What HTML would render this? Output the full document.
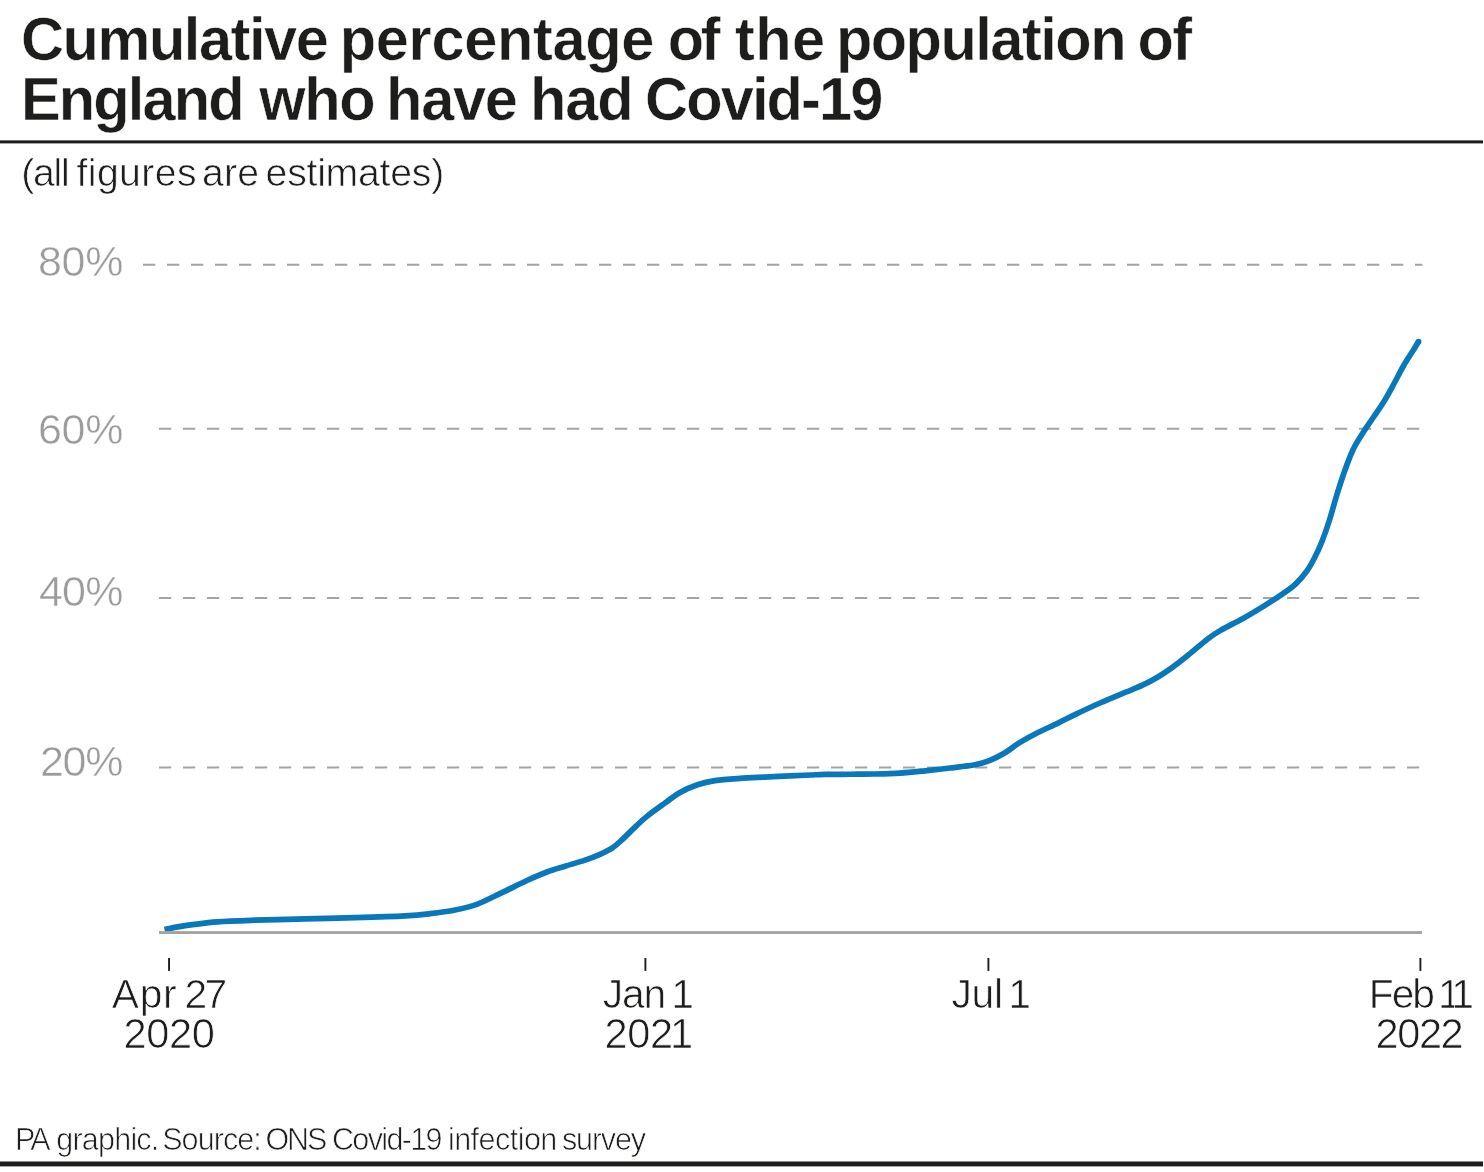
<!DOCTYPE html>
<html lang="en">
<head>
<meta charset="utf-8">
<title>Cumulative percentage of the population of England who have had Covid-19</title>
<style>
html,body{margin:0;padding:0;background:#fff;}
body{width:1484px;height:1172px;position:relative;overflow:hidden;font-family:"Liberation Sans",sans-serif;}
#chart{position:absolute;left:0;top:0;width:1484px;height:1172px;display:block;}
.g{margin:0;padding:0;font-size:16px;font-weight:normal;line-height:0;}
.t{display:block;position:absolute;transform-origin:0 0;white-space:pre;line-height:0;margin:0;padding:0;height:0;font-weight:normal;}

#title1{left:20.51px;top:38.90px;font-size:62.00px;font-weight:bold;color:#1d1d1b;transform:scaleX(0.9600);-webkit-text-stroke:0.50px #fff;}
#title2{left:21.40px;top:99.40px;font-size:62.00px;font-weight:bold;color:#1d1d1b;transform:scaleX(0.9600);-webkit-text-stroke:0.50px #fff;}
#sub{left:21.17px;top:173.18px;font-size:39.20px;font-weight:normal;color:#1d1d1b;-webkit-text-stroke:0.65px #fff;}
#y80{left:37.90px;top:260.55px;font-size:43.00px;font-weight:normal;color:#9b9b9b;-webkit-text-stroke:0.50px #fff;}
#y60{left:37.98px;top:428.55px;font-size:43.00px;font-weight:normal;color:#9b9b9b;-webkit-text-stroke:0.50px #fff;}
#y40{left:39.01px;top:590.55px;font-size:43.00px;font-weight:normal;color:#9b9b9b;-webkit-text-stroke:0.50px #fff;}
#y20{left:40.03px;top:760.55px;font-size:43.00px;font-weight:normal;color:#9b9b9b;-webkit-text-stroke:0.50px #fff;}
#x1a{left:111.72px;top:994.42px;font-size:40.80px;font-weight:normal;color:#1d1d1b;-webkit-text-stroke:0.70px #fff;}
#x1b{left:123.40px;top:1034.04px;font-size:41.60px;font-weight:normal;color:#1d1d1b;-webkit-text-stroke:0.70px #fff;}
#x2a{left:602.83px;top:994.42px;font-size:40.80px;font-weight:normal;color:#1d1d1b;-webkit-text-stroke:0.70px #fff;}
#x2b{left:604.40px;top:1034.04px;font-size:41.60px;font-weight:normal;color:#1d1d1b;-webkit-text-stroke:0.70px #fff;}
#x3a{left:951.49px;top:994.42px;font-size:40.80px;font-weight:normal;color:#1d1d1b;-webkit-text-stroke:0.70px #fff;}
#x4a{left:1368.82px;top:994.42px;font-size:40.80px;font-weight:normal;color:#1d1d1b;-webkit-text-stroke:0.70px #fff;}
#x4b{left:1375.60px;top:1034.04px;font-size:41.60px;font-weight:normal;color:#1d1d1b;-webkit-text-stroke:0.70px #fff;}
#foot{left:15.12px;top:1139.33px;font-size:30.50px;font-weight:normal;color:#1d1d1b;-webkit-text-stroke:0.70px #fff;}
</style>
</head>
<body>
<svg id="chart" width="1484" height="1172" viewBox="0 0 1484 1172">
<rect x="0" y="140.4" width="1483" height="3" fill="#1d1d1b"/>
<rect x="0" y="1161.5" width="1483" height="4.9" fill="#1d1d1b"/>
<g stroke="#a3a3a2" stroke-width="1.9" fill="none" stroke-dasharray="12.2 11.8">
<line x1="143" y1="264.7" x2="1422.3" y2="264.7"/>
<line x1="159" y1="428.75" x2="1419.3" y2="428.75"/>
<line x1="159" y1="598" x2="1419.3" y2="598"/>
<line x1="159" y1="767.5" x2="1419.3" y2="767.5"/>
</g>
<rect x="168.10" y="958" width="1.9" height="12.9" fill="#1d1d1b"/>
<rect x="644.45" y="958" width="1.9" height="12.9" fill="#1d1d1b"/>
<rect x="987.45" y="958" width="1.9" height="12.9" fill="#1d1d1b"/>
<rect x="1419.45" y="958" width="1.9" height="12.9" fill="#1d1d1b"/>
<path d="M164.50 929.52 C166.75 929.07 173.33 927.64 178.00 926.83 C182.67 926.02 185.92 925.51 192.50 924.67 C199.08 923.83 207.08 922.55 217.50 921.81 C227.92 921.07 240.42 920.70 255.00 920.22 C269.58 919.74 288.33 919.34 305.00 918.91 C321.67 918.49 338.33 918.17 355.00 917.65 C371.67 917.14 392.50 916.49 405.00 915.82 C417.50 915.16 421.67 914.63 430.00 913.66 C438.33 912.70 447.08 911.61 455.00 910.01 C462.92 908.41 469.58 907.01 477.50 904.07 C485.42 901.13 494.17 896.35 502.50 892.38 C510.83 888.41 520.00 883.69 527.50 880.25 C535.00 876.81 541.25 874.09 547.50 871.75 C553.75 869.41 558.75 868.13 565.00 866.20 C571.25 864.26 579.17 862.11 585.00 860.13 C590.83 858.16 595.42 856.38 600.00 854.33 C604.58 852.28 608.75 850.35 612.50 847.85 C616.25 845.35 618.75 842.76 622.50 839.31 C626.25 835.86 630.83 831.06 635.00 827.15 C639.17 823.24 642.50 819.89 647.50 815.86 C652.50 811.82 659.58 806.85 665.00 802.95 C670.42 799.05 674.58 795.49 680.00 792.45 C685.42 789.41 691.67 786.69 697.50 784.72 C703.33 782.74 707.92 781.66 715.00 780.60 C722.08 779.54 731.67 778.94 740.00 778.35 C748.33 777.76 756.67 777.48 765.00 777.08 C773.33 776.69 782.33 776.32 790.00 775.97 C797.67 775.62 805.17 775.25 811.00 774.99 C816.83 774.73 818.50 774.55 825.00 774.42 C831.50 774.30 841.67 774.32 850.00 774.25 C858.33 774.18 866.67 774.19 875.00 774.00 C883.33 773.81 891.67 773.63 900.00 773.10 C908.33 772.57 916.67 771.65 925.00 770.80 C933.33 769.96 941.67 769.04 950.00 768.03 C958.33 767.03 968.33 766.03 975.00 764.75 C981.67 763.47 985.00 762.36 990.00 760.36 C995.00 758.36 1000.00 755.73 1005.00 752.73 C1010.00 749.73 1014.58 745.71 1020.00 742.37 C1025.42 739.03 1031.25 735.84 1037.50 732.67 C1043.75 729.50 1051.25 726.36 1057.50 723.35 C1063.75 720.34 1067.92 717.99 1075.00 714.60 C1082.08 711.21 1091.67 706.69 1100.00 703.00 C1108.33 699.31 1117.92 695.45 1125.00 692.48 C1132.08 689.51 1137.08 687.73 1142.50 685.18 C1147.92 682.63 1152.75 679.98 1157.50 677.18 C1162.25 674.37 1165.92 672.01 1171.00 668.36 C1176.08 664.70 1181.83 660.19 1188.00 655.25 C1194.17 650.32 1202.58 642.88 1208.00 638.73 C1213.42 634.58 1214.67 633.72 1220.50 630.35 C1226.33 626.98 1235.92 622.44 1243.00 618.49 C1250.08 614.54 1256.33 610.79 1263.00 606.65 C1269.67 602.50 1277.58 597.37 1283.00 593.62 C1288.42 589.88 1291.55 587.90 1295.50 584.17 C1299.45 580.44 1303.61 575.49 1306.70 571.25 C1309.80 567.01 1311.59 563.54 1314.06 558.75 C1316.54 553.96 1319.04 548.79 1321.56 542.50 C1324.09 536.21 1326.65 528.92 1329.19 521.00 C1331.73 513.08 1334.17 503.50 1336.80 495.00 C1339.43 486.50 1342.31 477.50 1345.00 470.00 C1347.69 462.50 1350.16 455.83 1352.92 450.00 C1355.68 444.17 1358.35 440.17 1361.56 435.00 C1364.78 429.83 1368.60 424.42 1372.22 419.00 C1375.85 413.58 1379.82 408.17 1383.32 402.50 C1386.83 396.83 1389.82 391.25 1393.26 385.00 C1396.70 378.75 1400.60 370.83 1403.97 365.00 C1407.33 359.17 1411.02 353.92 1413.46 350.00 C1415.89 346.08 1417.74 342.92 1418.60 341.50" fill="none" stroke="#0878ba" stroke-width="5.7" stroke-linejoin="round" stroke-linecap="butt"/>
<circle cx="1418.60" cy="341.50" r="2.85" fill="#0878ba"/>
<rect x="159" y="931.1" width="1263" height="2.9" fill="#a3a3a2"/>
</svg>
<h1 class="g ttl"><span class="t" id="title1"><span class="s" style="letter-spacing:-1.515px">Cumulative</span> <span class="s" style="letter-spacing:-0.358px;margin-left:-4.18px">percentage</span> <span class="s" style="letter-spacing:-3.558px;margin-left:-2.85px">of</span> <span class="s" style="letter-spacing:0.382px;margin-left:1.47px">the</span> <span class="s" style="letter-spacing:-1.564px;margin-left:-6.36px">population</span> <span class="s" style="letter-spacing:-1.512px;margin-left:-4.32px">of</span></span>
<span class="t" id="title2"><span class="s" style="letter-spacing:-1.924px">England</span> <span class="s" style="letter-spacing:-1.379px;margin-left:-0.11px">who</span> <span class="s" style="letter-spacing:-1.383px;margin-left:-4.98px">have</span> <span class="s" style="letter-spacing:-1.216px;margin-left:-3.14px">had</span> <span class="s" style="letter-spacing:-1.948px;margin-left:-3.95px">Covid-19</span></span></h1>
<p class="g subt"><span class="t" id="sub"><span class="s" style="letter-spacing:-1.203px">(all</span> <span class="s" style="letter-spacing:0.439px;margin-left:-3.10px">figures</span> <span class="s" style="letter-spacing:0.205px;margin-left:-6.10px">are</span> <span class="s" style="letter-spacing:-0.234px;margin-left:-4.49px">estimates)</span></span></p>
<div class="g yaxis"><span class="t" id="y80"><span class="s" style="letter-spacing:-0.264px">80%</span></span>
<span class="t" id="y60"><span class="s" style="letter-spacing:-0.284px">60%</span></span>
<span class="t" id="y40"><span class="s" style="letter-spacing:-0.820px">40%</span></span>
<span class="t" id="y20"><span class="s" style="letter-spacing:-1.342px">20%</span></span></div>
<div class="g xl"><span class="t" id="x1a"><span class="s" style="letter-spacing:0.738px">Apr</span> <span class="s" style="letter-spacing:-2.544px;margin-left:-4.35px">27</span></span>
<span class="t" id="x1b"><span class="s" style="letter-spacing:-0.364px">2020</span></span></div>
<div class="g xl"><span class="t" id="x2a"><span class="s" style="letter-spacing:-1.173px">Jan</span> <span class="s" style="margin-left:-5.27px">1</span></span>
<span class="t" id="x2b"><span class="s" style="letter-spacing:-0.326px">202</span><span class="s" style="margin-left:-2.72px">1</span></span></div>
<div class="g xl"><span class="t" id="x3a"><span class="s" style="letter-spacing:-0.274px">Jul</span> <span class="s" style="margin-left:-5.99px">1</span></span></div>
<div class="g xl"><span class="t" id="x4a"><span class="s" style="letter-spacing:-2.105px">Feb</span> <span class="s" style="margin-left:-6.12px">1</span><span class="s" style="margin-left:-9.51px">1</span></span>
<span class="t" id="x4b"><span class="s" style="letter-spacing:-1.469px">2022</span></span></div>
<p class="g src"><span class="t" id="foot"><span class="s" style="letter-spacing:-3.001px">PA</span> <span class="s" style="letter-spacing:-0.795px;margin-left:0.34px">graphic.</span> <span class="s" style="letter-spacing:-0.938px;margin-left:-4.77px">Source:</span> <span class="s" style="letter-spacing:-2.052px;margin-left:-3.87px">ONS</span> <span class="s" style="letter-spacing:-1.629px;margin-left:-1.90px">Covid-19</span> <span class="s" style="letter-spacing:-0.529px;margin-left:-1.52px">infection</span> <span class="s" style="letter-spacing:-1.167px;margin-left:-3.25px">survey</span></span></p>
</body>
</html>
